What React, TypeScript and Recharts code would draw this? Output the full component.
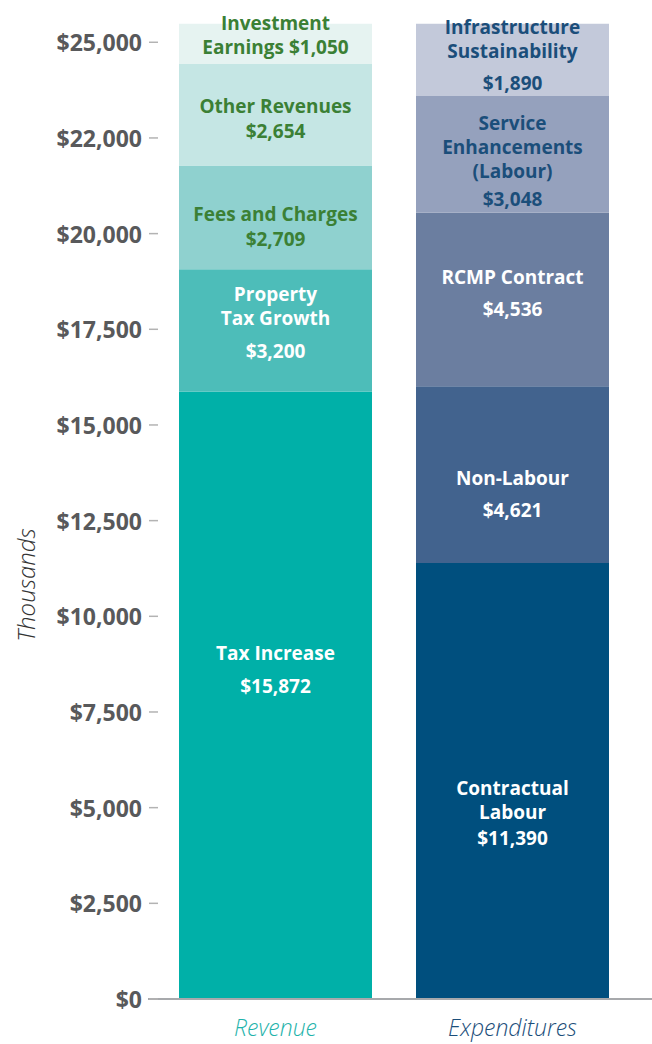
import React from 'react';
import { BarChart, Bar, XAxis, YAxis, LabelList } from 'recharts';

const categories = ['Revenue', 'Expenditures'];

const revenueKeys = ['taxIncrease', 'propertyTaxGrowth', 'feesCharges', 'otherRevenues', 'investmentEarnings'];
const revenueValues = [15872, 3200, 2709, 2654, 1050];
const revenueLabels = [
  ['Tax Increase', '{v}'],
  ['Property', 'Tax Growth', '{v}'],
  ['Fees and Charges', '{v}'],
  ['Other Revenues', '{v}'],
  ['Investment', 'Earnings {v}'],
];

const expenditureKeys = ['contractualLabour', 'nonLabour', 'rcmpContract', 'serviceEnhancements', 'infrastructure'];
const expenditureValues = [11390, 4621, 4536, 3048, 1890];
const expenditureLabels = [
  ['Contractual', 'Labour', '{v}'],
  ['Non-Labour', '{v}'],
  ['RCMP Contract', '{v}'],
  ['Service', 'Enhancements', '(Labour)', '{v}'],
  ['Infrastructure', 'Sustainability', '{v}'],
];

const yTicks = [0, 2500, 5000, 7500, 10000, 12500, 15000, 17500, 20000, 22500, 25000];
const yTickLabels = ['$0', '$2,500', '$5,000', '$7,500', '$10,000', '$12,500', '$15,000', '$17,500', '$20,000', '$22,000', '$25,000'];

// styling per segment (kept apart from the values)
const GREEN = '#3b8035';
const NAVY = '#1b4e7a';
const revenueStyle = [
  { fill: '#00b0a8', color: '#ffffff', valueGap: 33, shift: -26 },
  { fill: '#4dbdb9', color: '#ffffff', valueGap: 33, shift: -8 },
  { fill: '#8fd1cf', color: GREEN, valueGap: 25, shift: 9 },
  { fill: '#c5e6e4', color: GREEN, valueGap: 25, shift: 4 },
  { fill: '#e6f3f1', color: GREEN, valueGap: 24, shift: -9 },
];
const expenditureStyle = [
  { fill: '#004f7e', color: '#ffffff', valueGap: 26, shift: 32 },
  { fill: '#42638e', color: '#ffffff', valueGap: 32, shift: 19 },
  { fill: '#6b7ea0', color: '#ffffff', valueGap: 32, shift: -6 },
  { fill: '#95a1bd', color: NAVY, valueGap: 28, shift: 7 },
  { fill: '#c3c9da', color: NAVY, valueGap: 32, shift: -5 },
];
const categoryColors = ['#1fb3ab', '#1b4e7a'];

const FONT = '"Open Sans", sans-serif';

const data = categories.map((name, ci) => {
  const row: Record<string, any> = { name };
  if (ci === 0) revenueKeys.forEach((k, i) => (row[k] = revenueValues[i]));
  else expenditureKeys.forEach((k, i) => (row[k] = expenditureValues[i]));
  return row;
});

const money = (v: number) => '$' + v.toLocaleString('en-US');

const makeLabel = (lines: string[], style: any) => (props: any) => {
  const { x, y, width, height, value } = props;
  if (value == null || !height) return null;
  const lineGap = style.lineGap || 24;
  const offsets: number[] = [];
  let cur = 0;
  lines.forEach((line, i) => {
    if (i > 0) cur += line === '{v}' ? style.valueGap : lineGap;
    offsets.push(cur);
  });
  const cx = x + width / 2;
  const cy = y + height / 2 + style.shift - cur / 2;
  return (
    <g>
      {lines.map((line, i) => (
        <text
          key={i}
          x={cx}
          y={cy + offsets[i]}
          textAnchor="middle"
          dominantBaseline="central"
          fill={style.color}
          fontFamily={FONT}
          fontWeight={700}
          fontSize={19}
        >
          {line.replace('{v}', money(value))}
        </text>
      ))}
    </g>
  );
};

const YTick = (props: any) => {
  const { x, y, index } = props;
  return (
    <g>
      <text x={x - 6} y={y} textAnchor="end" dominantBaseline="central" fill="#58595b" fontFamily={FONT} fontWeight={700} fontSize={23}>
        {yTickLabels[index]}
      </text>
      <line x1={x + 1} x2={x + 10} y1={y} y2={y} stroke="#b3b3b3" strokeWidth={1.5} />
    </g>
  );
};

const XTick = (props: any) => {
  const { x, y, payload, index } = props;
  return (
    <text x={x} y={y + 28} textAnchor="middle" dominantBaseline="central" fill={categoryColors[index]} fontFamily={FONT} fontStyle="italic" fontWeight={300} fontSize={23}>
      {payload.value}
    </text>
  );
};

const YLabel = () => (
  <text x={25} y={585} transform="rotate(-90 25 585)" textAnchor="middle" dominantBaseline="central" fill="#333333" fontFamily={FONT} fontStyle="italic" fontWeight={300} fontSize={24}>
    Thousands
  </text>
);

export default function App() {
  return (
    <div style={{ position: 'absolute', left: 0, top: 0, background: '#fff' }}>
      <BarChart width={652} height={1044} data={data} margin={{ top: 4, right: 0, bottom: 0, left: 0 }}>
        <XAxis
          dataKey="name"
          height={45}
          tickSize={0}
          tickMargin={0}
          tickLine={false}
          axisLine={{ stroke: '#a7a9ac', strokeWidth: 2 }}
          padding={{ left: 9, right: 21 }}
          tick={<XTick />}
        />
        <YAxis
          width={148}
          domain={[0, 26000]}
          ticks={yTicks}
          interval={0}
          tickSize={0}
          tickMargin={0}
          tickLine={false}
          axisLine={false}
          tick={<YTick />}
          label={<YLabel />}
        />
        {revenueKeys.map((k, i) => (
          <Bar key={k} dataKey={k} stackId="a" barSize={193} fill={revenueStyle[i].fill} isAnimationActive={false}>
            <LabelList dataKey={k} content={makeLabel(revenueLabels[i], revenueStyle[i])} />
          </Bar>
        ))}
        {expenditureKeys.map((k, i) => (
          <Bar key={k} dataKey={k} stackId="a" barSize={193} fill={expenditureStyle[i].fill} isAnimationActive={false}>
            <LabelList dataKey={k} content={makeLabel(expenditureLabels[i], expenditureStyle[i])} />
          </Bar>
        ))}
      </BarChart>
    </div>
  );
}
